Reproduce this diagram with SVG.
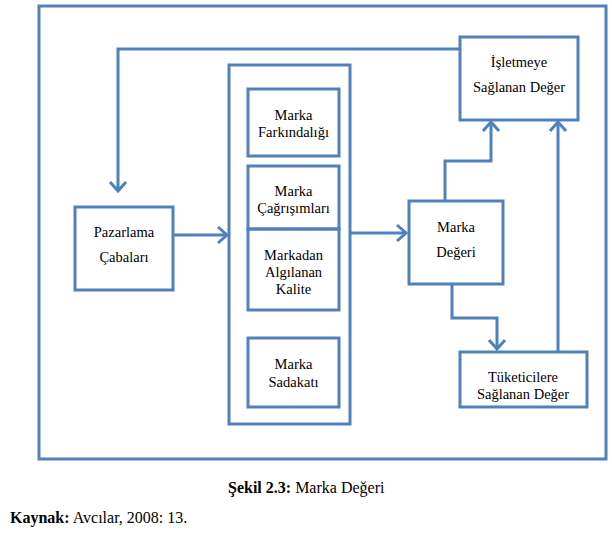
<svg xmlns="http://www.w3.org/2000/svg" width="612" height="546" viewBox="0 0 612 546">
<defs>
<marker id="arr" markerUnits="userSpaceOnUse" markerWidth="14" markerHeight="20" viewBox="-12 -10 14 20" refX="0" refY="0" orient="auto">
<path d="M-9,-8 L0,0 L-9,8" fill="none" stroke="#4F81BD" stroke-width="3"/>
</marker>
</defs>
<style>
.box{fill:none;stroke:#4F81BD;stroke-width:3}
.ln{fill:none;stroke:#4F81BD;stroke-width:3}
</style>
<rect width="612" height="546" fill="#fff"/>
<rect id="frame" class="box" x="39" y="6" width="567" height="453"/>
<g id="connectors">
<polyline class="ln" points="460,49 118,49 118,191" marker-end="url(#arr)"/>
<line class="ln" x1="173" y1="235" x2="227" y2="235" marker-end="url(#arr)"/>
<line class="ln" x1="350" y1="233" x2="406" y2="233" marker-end="url(#arr)"/>
<polyline class="ln" points="445,201 445,161 491,161 491,122" marker-end="url(#arr)"/>
<line class="ln" x1="558" y1="352" x2="558" y2="122" marker-end="url(#arr)"/>
<polyline class="ln" points="452,284 452,318 497,318 497,349" marker-end="url(#arr)"/>
</g>
<g id="pazarlama">
<rect class="box" x="75" y="207" width="98" height="83"/>
<text font-family="Liberation Serif" font-size="14.5" text-anchor="middle" x="124" y="237">Pazarlama</text>
<text font-family="Liberation Serif" font-size="14.5" text-anchor="middle" x="124" y="262">Çabaları</text>
</g>
<g id="bilesenler">
<rect class="box" x="229" y="65" width="121" height="359"/>
</g>
<g id="farkindalik">
<rect class="box" x="248" y="89" width="91" height="67"/>
<text font-family="Liberation Serif" font-size="14.5" text-anchor="middle" x="293.5" y="120">Marka</text>
<text font-family="Liberation Serif" font-size="14.5" text-anchor="middle" x="293.5" y="137">Farkındalığı</text>
</g>
<g id="cagrisimlar">
<rect class="box" x="248" y="166" width="91" height="63"/>
<text font-family="Liberation Serif" font-size="14.5" text-anchor="middle" x="293.5" y="196">Marka</text>
<text font-family="Liberation Serif" font-size="14.5" text-anchor="middle" x="293.5" y="213">Çağrışımları</text>
</g>
<g id="kalite">
<rect class="box" x="248" y="229" width="91" height="81"/>
<text font-family="Liberation Serif" font-size="14.5" text-anchor="middle" x="293.5" y="260">Markadan</text>
<text font-family="Liberation Serif" font-size="14.5" text-anchor="middle" x="293.5" y="277">Algılanan</text>
<text font-family="Liberation Serif" font-size="14.5" text-anchor="middle" x="293.5" y="294">Kalite</text>
</g>
<g id="sadakat">
<rect class="box" x="248" y="338" width="91" height="69"/>
<text font-family="Liberation Serif" font-size="14.5" text-anchor="middle" x="293.5" y="369">Marka</text>
<text font-family="Liberation Serif" font-size="14.5" text-anchor="middle" x="293.5" y="387">Sadakatı</text>
</g>
<g id="markadegeri">
<rect class="box" x="409" y="201" width="94" height="83"/>
<text font-family="Liberation Serif" font-size="14.5" text-anchor="middle" x="456" y="232">Marka</text>
<text font-family="Liberation Serif" font-size="14.5" text-anchor="middle" x="456" y="257">Değeri</text>
</g>
<g id="isletmeye">
<rect class="box" x="460" y="37" width="118" height="83"/>
<text font-family="Liberation Serif" font-size="14.5" text-anchor="middle" x="519" y="67">İşletmeye</text>
<text font-family="Liberation Serif" font-size="14.5" text-anchor="middle" x="519" y="92">Sağlanan Değer</text>
</g>
<g id="tuketicilere">
<rect class="box" x="460" y="352" width="127" height="55"/>
<text font-family="Liberation Serif" font-size="14.5" text-anchor="middle" x="523" y="382">Tüketicilere</text>
<text font-family="Liberation Serif" font-size="14.5" text-anchor="middle" x="523" y="399">Sağlanan Değer</text>
</g>
<text font-family="Liberation Serif" font-size="16" x="228" y="493"><tspan font-weight="bold">Şekil 2.3:</tspan> Marka Değeri</text>
<text font-family="Liberation Serif" font-size="16" x="10" y="523"><tspan font-weight="bold">Kaynak:</tspan> Avcılar, 2008: 13.</text>
</svg>
